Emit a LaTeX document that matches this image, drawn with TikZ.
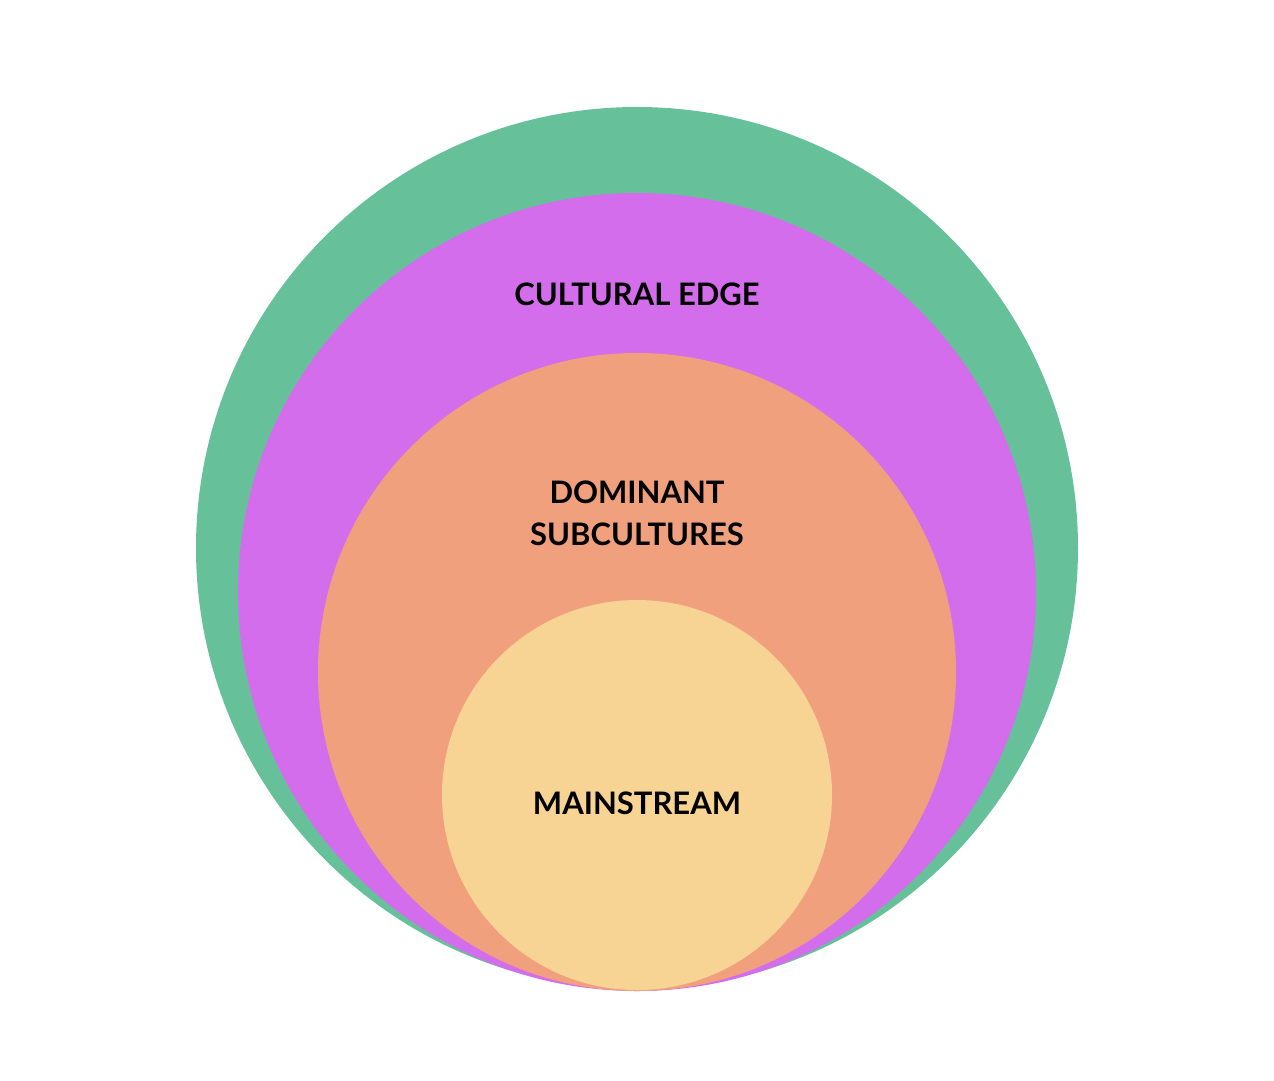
\documentclass[tikz,border=0pt]{standalone}
\usepackage{fontspec}
\setmainfont{Lato}
\definecolor{edgegreen}{HTML}{66C19A}
\definecolor{edgepurple}{HTML}{D46DEC}
\definecolor{domorange}{HTML}{F0A07D}
\definecolor{mainyellow}{HTML}{F7D394}
\tikzset{
  ring/.style={circle, draw=none, inner sep=0pt},
  tag/.style={font=\fontsize{31}{42}\selectfont\bfseries, align=center, text=black}
}
\begin{document}
\begin{tikzpicture}[x=1pt, y=-1pt]
    \useasboundingbox (0,0) rectangle (1274,1080);

    \node (outer) [ring, fill=edgegreen, minimum size=882pt] at (637,548) {};
    \node (edge) [ring, fill=edgepurple, minimum size=798pt] at (637,592) {};
    \node (dom) [ring, fill=domorange, minimum size=638pt] at (637,672) {};
    \node (main) [ring, fill=mainyellow, minimum size=390pt] at (637,795) {};

    \node (edgetag) [tag] at (637,294) {CULTURAL EDGE};
    \node (domtag) [tag] at (637,513) {DOMINANT\\SUBCULTURES};
    \node (maintag) [tag] at (637,803) {MAINSTREAM};
\end{tikzpicture}
\end{document}
